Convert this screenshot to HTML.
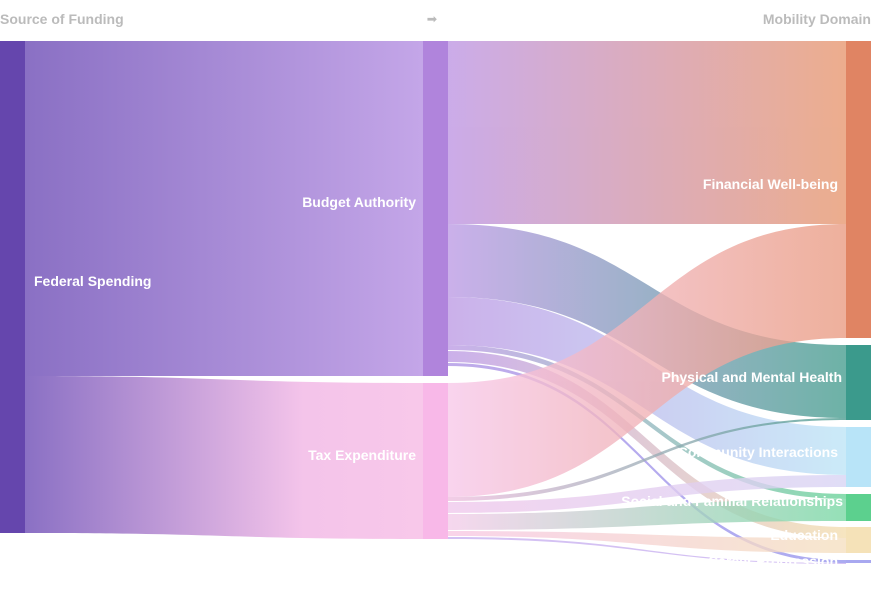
<!DOCTYPE html>
<html><head><meta charset="utf-8"><style>
html,body{margin:0;padding:0;background:#fff;width:873px;height:589px;overflow:hidden}
svg{display:block}
text{font-family:"Liberation Sans",sans-serif;font-weight:bold}
</style></head><body>
<svg width="873" height="589" viewBox="0 0 873 589" xmlns="http://www.w3.org/2000/svg">
<defs>
<linearGradient id="gFB" gradientUnits="userSpaceOnUse" x1="25" x2="423" y1="0" y2="0"><stop offset="0" stop-color="#8a70c4"/><stop offset="1" stop-color="#c4a6e8"/></linearGradient>
<linearGradient id="gFT" gradientUnits="userSpaceOnUse" x1="25" x2="423" y1="0" y2="0"><stop offset="0" stop-color="#8a70c4"/><stop offset="0.7" stop-color="#f4c4ea"/><stop offset="1" stop-color="#f8c8ea"/></linearGradient>
<linearGradient id="gBF" gradientUnits="userSpaceOnUse" x1="448" x2="846" y1="0" y2="0"><stop offset="0" stop-color="#c4a0e6"/><stop offset="1" stop-color="#eaa27e"/></linearGradient>
<linearGradient id="gBP" gradientUnits="userSpaceOnUse" x1="448" x2="846" y1="0" y2="0"><stop offset="0" stop-color="#c4a6e8"/><stop offset="1" stop-color="#5aa89b"/></linearGradient>
<linearGradient id="gBC" gradientUnits="userSpaceOnUse" x1="448" x2="846" y1="0" y2="0"><stop offset="0" stop-color="#c4a6e8"/><stop offset="1" stop-color="#c4e8f8"/></linearGradient>
<linearGradient id="gBS" gradientUnits="userSpaceOnUse" x1="448" x2="846" y1="0" y2="0"><stop offset="0" stop-color="#c4a6e8"/><stop offset="1" stop-color="#7ad8a4"/></linearGradient>
<linearGradient id="gBE" gradientUnits="userSpaceOnUse" x1="448" x2="846" y1="0" y2="0"><stop offset="0" stop-color="#c4a6e8"/><stop offset="1" stop-color="#f5e2b8"/></linearGradient>
<linearGradient id="gBK" gradientUnits="userSpaceOnUse" x1="448" x2="846" y1="0" y2="0"><stop offset="0" stop-color="#b7a0e8"/><stop offset="1" stop-color="#a0a0f0"/></linearGradient>
<linearGradient id="gTF" gradientUnits="userSpaceOnUse" x1="448" x2="846" y1="0" y2="0"><stop offset="0" stop-color="#f8c8ea"/><stop offset="1" stop-color="#e99a80"/></linearGradient>
<linearGradient id="gTP" gradientUnits="userSpaceOnUse" x1="448" x2="846" y1="0" y2="0"><stop offset="0" stop-color="#f0c0e0"/><stop offset="1" stop-color="#4c9c90"/></linearGradient>
<linearGradient id="gTC" gradientUnits="userSpaceOnUse" x1="448" x2="846" y1="0" y2="0"><stop offset="0" stop-color="#f0c8ec"/><stop offset="1" stop-color="#d8d4f4"/></linearGradient>
<linearGradient id="gTS" gradientUnits="userSpaceOnUse" x1="448" x2="846" y1="0" y2="0"><stop offset="0" stop-color="#f4cdea"/><stop offset="1" stop-color="#78d8a4"/></linearGradient>
<linearGradient id="gTE" gradientUnits="userSpaceOnUse" x1="448" x2="846" y1="0" y2="0"><stop offset="0" stop-color="#f8c8e4"/><stop offset="1" stop-color="#f5e0c0"/></linearGradient>
</defs>
<text x="0" y="24" font-size="14" fill="#bbbbbb">Source of Funding</text>
<text x="427" y="23" font-size="12" fill="#bbbbbb">➟</text>
<text x="871" y="24" font-size="14" fill="#bbbbbb" text-anchor="end">Mobility Domain</text>

<path d="M25,41 L423,41 L423,376 L25,376 Z" fill="url(#gFB)"/>
<path d="M25,376 C224,376 224,383 423,383 L423,539 C224,539 224,533 25,533 Z" fill="url(#gFT)"/>

<g opacity="0.88">
<path d="M448,41 L846,41 L846,224 L448,224 Z" fill="url(#gBF)"/>
<path d="M448,224 C647,224 647,345 846,345 L846,418 C647,418 647,297 448,297 Z" fill="url(#gBP)"/>
<path d="M448,297 C647,297 647,427 846,427 L846,475 C647,475 647,345 448,345 Z" fill="url(#gBC)"/>
<path d="M448,345 C647,345 647,494 846,494 L846,499 C647,499 647,350 448,350 Z" fill="url(#gBS)"/>
<path d="M448,351 C647,351 647,527 846,527 L846,538 C647,538 647,362 448,362 Z" fill="url(#gBE)"/>
<path d="M448,363 C647,363 647,560 846,560 L846,563 C647,563 647,366 448,366 Z" fill="url(#gBK)"/>
</g>
<g opacity="0.78">
<path d="M448,383 C647,383 647,224 846,224 L846,338 C647,338 647,497 448,497 Z" fill="url(#gTF)"/>
<path d="M448,497 C647,497 647,418 846,418 L846,420 C647,420 647,501 448,501 Z" fill="url(#gTP)"/>
<path d="M448,502 C647,502 647,475 846,475 L846,487 C647,487 647,513 448,513 Z" fill="url(#gTC)"/>
<path d="M448,514 C647,514 647,499 846,499 L846,521 C647,521 647,530 448,530 Z" fill="url(#gTS)"/>
<path d="M448,531 C647,531 647,538 846,538 L846,553 C647,553 647,536 448,536 Z" fill="url(#gTE)"/>
<path d="M448,537 C647,537 647,563 846,563 L846,564 C647,564 647,539 448,539 Z" fill="#c8b0f0"/>
</g>

<rect x="0" y="41" width="25" height="492" fill="#6546ad"/>
<rect x="423" y="41" width="25" height="335" fill="#b084dc"/>
<rect x="423" y="383" width="25" height="156" fill="#f8b8e8"/>
<rect x="846" y="41" width="25" height="297" fill="#e08463"/>
<rect x="846" y="345" width="25" height="75" fill="#3b9a8c"/>
<rect x="846" y="427" width="25" height="60" fill="#b8e4f8"/>
<rect x="846" y="494" width="25" height="27" fill="#5cd08e"/>
<rect x="846" y="527" width="25" height="26" fill="#f5e2b8"/>
<rect x="846" y="560" width="25" height="3" fill="#a8a8f0"/>

<g fill="#fff" font-size="14">
<text x="34" y="286">Federal Spending</text>
<text x="416" y="207" text-anchor="end">Budget Authority</text>
<text x="416" y="460" text-anchor="end">Tax Expenditure</text>
<text x="838" y="189" text-anchor="end">Financial Well-being</text>
<text x="842" y="382" text-anchor="end">Physical and Mental Health</text>
<text x="838" y="457" text-anchor="end">Community Interactions</text>
<text x="843" y="506" text-anchor="end">Social and Familial Relationships</text>
<text x="838" y="540" text-anchor="end">Education</text>
<text x="838" y="566" text-anchor="end">Career Progression</text>
</g>
</svg>
</body></html>
